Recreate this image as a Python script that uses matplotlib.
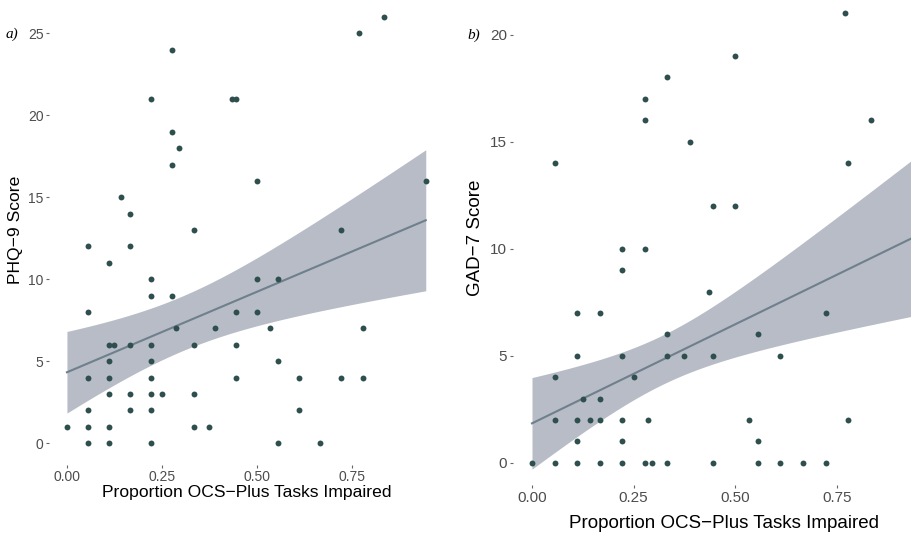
import numpy as np
import matplotlib
matplotlib.use("Agg")
import matplotlib.pyplot as plt

plt.rcParams['font.family'] = ['Liberation Sans', 'DejaVu Sans']

# panel a) PHQ-9 vs proportion impaired
phq_x = [0.833, 0.768, 0.277, 0.222, 0.435, 0.445, 0.277, 0.294, 0.277, 0.5,
         0.944, 0.143, 0.167, 0.333, 0.722, 0.0556, 0.167, 0.111, 0.222, 0.5,
         0.556, 0.222, 0.277, 0.0556, 0.444, 0.5, 0.286, 0.389, 0.533, 0.778,
         0.111, 0.125, 0.167, 0.222, 0.333, 0.444, 0.111, 0.222, 0.556, 0.0556,
         0.111, 0.222, 0.444, 0.611, 0.722, 0.778, 0.111, 0.167, 0.222, 0.25,
         0.333, 0.0556, 0.167, 0.222, 0.611, 0.0, 0.0556, 0.111, 0.333, 0.375,
         0.0556, 0.111, 0.222, 0.556, 0.667]
phq_y = [26, 25, 24, 21, 21, 21, 19, 18, 17, 16,
         16, 15, 14, 13, 13, 12, 12, 11, 10, 10,
         10, 9, 9, 8, 8, 8, 7, 7, 7, 7,
         6, 6, 6, 6, 6, 6, 5, 5, 5, 4,
         4, 4, 4, 4, 4, 4, 3, 3, 3, 3,
         3, 2, 2, 2, 2, 1, 1, 1, 1, 1,
         0, 0, 0, 0, 0]

# panel b) GAD-7 vs proportion impaired
gad_x = [0.769, 0.5, 0.333, 0.277, 0.277, 0.833, 0.389, 0.0556, 0.778, 0.444,
         0.5, 0.222, 0.277, 0.222, 0.436, 0.111, 0.167, 0.722, 0.333, 0.556,
         0.111, 0.222, 0.333, 0.375, 0.444, 0.611, 0.0556, 0.25, 0.125, 0.167,
         0.0556, 0.111, 0.143, 0.167, 0.222, 0.286, 0.533, 0.778, 0.111, 0.222,
         0.556, 0.0, 0.0556, 0.111, 0.167, 0.222, 0.277, 0.294, 0.333, 0.444,
         0.556, 0.611, 0.667, 0.722]
gad_y = [21, 19, 18, 17, 16, 16, 15, 14, 14, 12,
         12, 10, 10, 9, 8, 7, 7, 7, 6, 6,
         5, 5, 5, 5, 5, 5, 4, 4, 3, 3,
         2, 2, 2, 2, 2, 2, 2, 2, 1, 1,
         1, 0, 0, 0, 0, 0, 0, 0, 0, 0,
         0, 0, 0, 0]

# linear fits as drawn in the original (values at x=0 and x=0.944)
fit_x = [0.0, 0.944]
phq_fit = [4.33, 13.6]
gad_fit = [1.84, 10.58]
# 95% band: narrowest half-width, where it is narrowest, half-width at x=0.944
phq_band = [1.67, 0.30, 4.30]
gad_band = [1.15, 0.32, 3.70]

x_ticks = [0.0, 0.25, 0.5, 0.75]
x_ticklabels = ["0.00", "0.25", "0.50", "0.75"]
phq_ticks = [0, 5, 10, 15, 20, 25]
gad_ticks = [0, 5, 10, 15, 20]

POINT = "#2f4f4f"
LINE = "#6f808d"
BAND = "#b7bcc6"
TXT = "#4d4d4d"
W, H = 912, 533


def panel(rect, x, y, fit, band, yticks, ylabel, tag, tick_fs, lab_fs, lab_y, ylab_x, tag_xy):
    ax = fig.add_axes(rect)
    grid = np.linspace(fit_x[0], fit_x[1], 200)
    line = np.interp(grid, fit_x, fit)
    h0, xc, h_end = band
    k = (h_end ** 2 - h0 ** 2) / (fit_x[1] - xc) ** 2
    half = np.sqrt(h0 ** 2 + k * (grid - xc) ** 2)
    ax.fill_between(grid, line - half, line + half, color=BAND, lw=0, zorder=1)
    ax.plot(grid, line, color=LINE, lw=1.5, zorder=2)
    ax.scatter(x, y, s=18, color=POINT, zorder=3, lw=0)

    xr = max(phq_x) - min(phq_x)
    ax.set_xlim(min(phq_x) - 0.05 * xr, max(phq_x) + 0.05 * xr)
    yr = max(y) - min(y)
    ax.set_ylim(min(y) - 0.05 * yr, max(y) + 0.05 * yr)

    ax.set_xticks(x_ticks)
    ax.set_xticklabels(x_ticklabels)
    ax.set_yticks(yticks)
    ax.tick_params(length=2.5, width=0.8, color="#666666", labelcolor=TXT,
                   labelsize=tick_fs, pad=1.5)
    for sp in ax.spines.values():
        sp.set_visible(False)

    bb = ax.get_position()
    fig.text((bb.x0 + bb.x1) / 2, 1 - lab_y / H,
             "Proportion OCS\u2212Plus Tasks Impaired",
             ha="center", va="center", fontsize=lab_fs, color="black")
    fig.text(ylab_x / W, (bb.y0 + bb.y1) / 2, ylabel, rotation=90,
             ha="center", va="center", fontsize=lab_fs, color="black")
    fig.text(tag_xy[0] / W, 1 - tag_xy[1] / H, tag, ha="left", va="center",
             fontsize=11, style="italic", family="Liberation Serif")
    return ax


fig = plt.figure(figsize=(W / 100, H / 100), dpi=100)

panel([49 / W, 1 - 464.6 / H, 394.7 / W, 469 / H], phq_x, phq_y, phq_fit, phq_band,
      phq_ticks, "PHQ\u22129 Score", "a)", 10, 12.6, 492, 16, (6, 34))
panel([512.8 / W, 1 - 485.2 / H, 422.2 / W, 494.4 / H], gad_x, gad_y, gad_fit, gad_band,
      gad_ticks, "GAD\u22127 Score", "b)", 11, 13.5, 523, 476, (467, 35))

fig.savefig("out.png", dpi=100)
